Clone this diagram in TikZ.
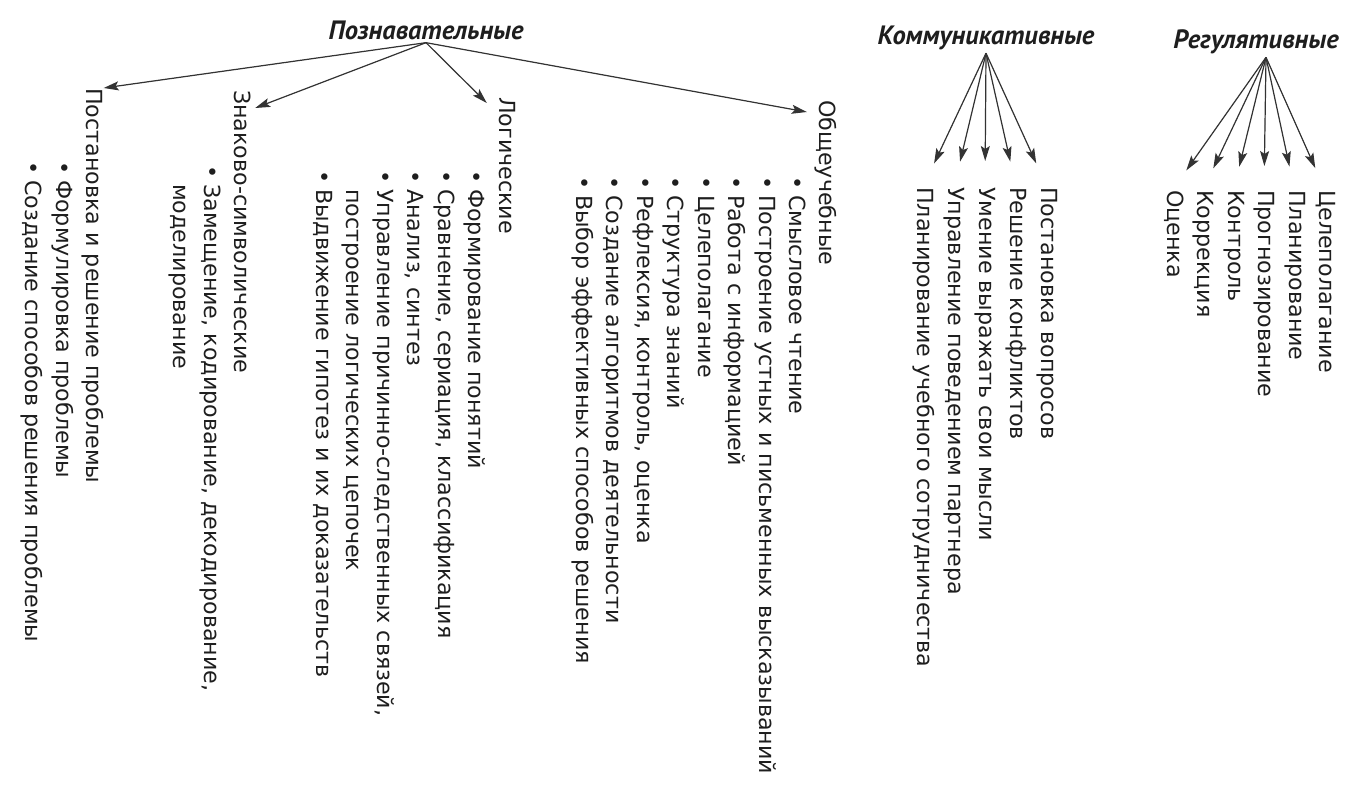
\documentclass[tikz,border=0pt]{standalone}
\usepackage{fontspec}
\usepackage{tikz}
\usetikzlibrary{arrows,arrows.meta}
\setmainfont{DejaVu Sans}
\newfontfamily\headfont{PT Sans}
\definecolor{ink}{HTML}{1E1E1E}
\definecolor{arrowgray}{HTML}{333333}
\tikzset{%
    >={Latex[length=3mm]}
}
\newcommand{\bul}{\makebox[19pt][l]{•}}
\newcommand{\cont}{\hspace*{19pt}}

\begin{document}
\begin{tikzpicture}[x=1pt, y=-1pt, >={Stealth[length=15pt, width=9pt, inset=3pt]},
  line/.style={rotate=-90, anchor=west, inner sep=0pt, text height=17pt, text depth=6pt,
    font=\fontsize{22.2}{27}\selectfont, text=ink},
  head/.style={inner sep=3pt, font=\headfont\bfseries\itshape\fontsize{26.5}{30}\selectfont, text=ink},
  link/.style={->, draw=arrowgray, fill=arrowgray, line width=1.2pt}]
  \useasboundingbox (0,0) rectangle (1349,788);

  % Познавательные
  \node[head] (hP) at (426,30) {Познавательные};

  \node[line] (lA) at (92,88) {Постановка и решение проблемы};
  \node[line] (a1) at (61.5,161) {\bul Формулировка проблемы};
  \node[line] (a2) at (31,161) {\bul Создание способов решения проблемы};

  \node[line] (lB) at (240,90) {Знаково-символические};
  \node[line] (b1) at (209.5,165) {\bul Замещение, кодирование, декодирование,};
  \node[line] (b2) at (179,165) {\cont моделирование};

  \node[line] (lC) at (505,97) {Логические};
  \node[line] (c1) at (474,170) {\bul Формирование понятий};
  \node[line] (c2) at (443.5,170) {\bul Сравнение, сериация, классификация};
  \node[line] (c3) at (413,170) {\bul Анализ, синтез};
  \node[line] (c4) at (382.5,170) {\bul Управление причинно-следственных связей,};
  \node[line] (c5) at (352,170) {\cont построение логических цепочек};
  \node[line] (c6) at (321.5,170) {\bul Выдвижение гипотез и их доказательств};

  \node[line] (lD) at (825,100) {Общеучебные};
  \node[line] (d1) at (795,176) {\bul Смысловое чтение};
  \node[line] (d2) at (764.5,176) {\bul Построение устных и письменных высказываний};
  \node[line] (d3) at (734,176) {\bul Работа с информацией};
  \node[line] (d4) at (703.5,176) {\bul Целеполагание};
  \node[line] (d5) at (673,176) {\bul Структура знаний};
  \node[line] (d6) at (642.5,176) {\bul Рефлексия, контроль, оценка};
  \node[line] (d7) at (612,176) {\bul Создание алгоритмов деятельности};
  \node[line] (d8) at (581.5,176) {\bul Выбор эффективных способов решения};

  \draw[link] (hP.south) -- (lA.north west);
  \draw[link] (hP.south) -- ([shift={(3.5pt,-18pt)}]lB.north west);
  \draw[link] (hP.south) -- ([shift={(-6.5pt,-6pt)}]lC.south west);
  \draw[link] (hP.south) -- ([shift={(-6.5pt,-12pt)}]lD.south west);

  % Коммуникативные
  \node[head] (hK) at (986,38) {Коммуникативные};
  \node[line] (k1) at (1047,187) {Постановка вопросов};
  \node[line] (k2) at (1016,187) {Решение конфликтов};
  \node[line] (k3) at (985,187) {Умение выражать свои мысли};
  \node[line] (k4) at (954,187) {Управление поведением партнера};
  \node[line] (k5) at (923,187) {Планирование учебного сотрудничества};
  \draw[link, shorten >=26pt] (hK.south) -- (k1.west);
  \draw[link, shorten >=26pt] (hK.south) -- (k2.west);
  \draw[link, shorten >=26pt] (hK.south) -- (k3.west);
  \draw[link, shorten >=26pt] (hK.south) -- (k4.west);
  \draw[link, shorten >=26pt] (hK.south) -- (k5.west);

  % Регулятивные
  \node[head] (hR) at (1256,42) {Регулятивные};
  \node[line] (r1) at (1325,190) {Целеполагание};
  \node[line] (r2) at (1294.5,190) {Планирование};
  \node[line] (r3) at (1264,190) {Прогнозирование};
  \node[line] (r4) at (1233.5,190) {Контроль};
  \node[line] (r5) at (1203,190) {Коррекция};
  \node[line] (r6) at (1172.5,190) {Оценка};
  \draw[link, shorten >=24pt] ([xshift=10pt]hR.south) -- (r1.west);
  \draw[link, shorten >=24pt] ([xshift=10pt]hR.south) -- (r2.west);
  \draw[link, shorten >=24pt] ([xshift=10pt]hR.south) -- (r3.west);
  \draw[link, shorten >=24pt] ([xshift=10pt]hR.south) -- (r4.west);
  \draw[link, shorten >=24pt] ([xshift=10pt]hR.south) -- (r5.west);
  \draw[link, shorten >=24pt] ([xshift=10pt]hR.south) -- (r6.west);
\end{tikzpicture}
\end{document}
